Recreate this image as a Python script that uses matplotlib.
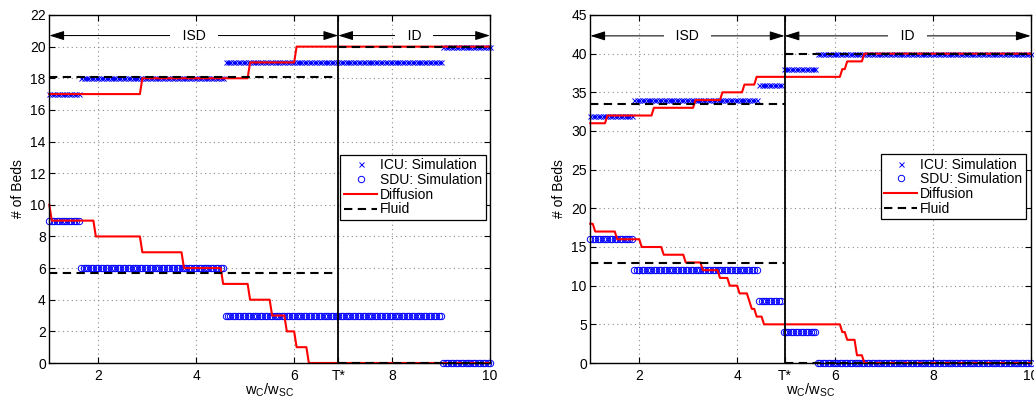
import numpy as np
import matplotlib
matplotlib.use("Agg")
import matplotlib.pyplot as plt

plt.rcParams['font.family'] = ['Liberation Sans', 'DejaVu Sans']
plt.rcParams['mathtext.fontset'] = 'custom'
plt.rcParams['mathtext.rm'] = 'Liberation Sans'
plt.rcParams['mathtext.it'] = 'Liberation Sans'
plt.rcParams['mathtext.bf'] = 'Liberation Sans'

# ---------------- data ----------------
STEP = 0.05          # spacing of the w_C/w_SC grid used in the figure
X_MIN, X_MAX = 1.0, 10.0

# Left panel
left_T = 6.9
left_ymax = 22
left_yticks = list(range(0, 23, 2))
left_xticks = [2, 4, 6, left_T, 8, 10]
left_xticklabels = ['2', '4', '6', 'T*', '8', '10']
# simulation: segments (start, end) and the bed levels on each
left_sim_start = [1.0, 1.65, 4.6, 9.05]
left_sim_end = [1.6, 4.55, 9.0, 10.0]
left_icu_sim = [17, 18, 19, 20]
left_sdu_sim = [9, 6, 3, 0]
# diffusion: x where each new level begins, and the levels
left_icu_diff_x = [1.0, 2.9, 5.1, 6.05]
left_icu_diff = [17, 18, 19, 20]
left_sdu_diff_x = [1.0, 1.05, 1.95, 2.9, 3.75, 4.55, 5.1, 5.55, 5.85, 6.05, 6.3]
left_sdu_diff = [10, 9, 8, 7, 6, 5, 4, 3, 2, 1, 0]
# fluid: value before and after T*
left_icu_fluid = [18.07, 20]
left_sdu_fluid = [5.67, 0]
left_arrow_y = 20.7

# Right panel
right_T = 4.97
right_ymax = 45
right_yticks = list(range(0, 46, 5))
right_xticks = [2, 4, right_T, 6, 8, 10]
right_xticklabels = ['2', '4', 'T*', '6', '8', '10']
right_sim_start = [1.0, 1.9, 4.45, 4.95, 5.65]
right_sim_end = [1.85, 4.4, 4.9, 5.6, 10.0]
right_icu_sim = [32, 34, 36, 38, 40]
right_sdu_sim = [16, 12, 8, 4, 0]
right_icu_diff_x = [1.0, 1.35, 2.3, 3.15, 3.7, 4.15, 4.4, 6.15, 6.25, 6.6]
right_icu_diff = [31, 32, 33, 34, 35, 36, 37, 38, 39, 40]
right_sdu_diff_x = [1.0, 1.1, 1.55, 2.05, 2.5, 2.95, 3.3, 3.65, 3.85, 4.05,
                    4.25, 4.3, 4.4, 4.55, 6.15, 6.25, 6.45, 6.6]
right_sdu_diff = [18, 17, 16, 15, 14, 13, 12, 11, 10, 9, 8, 7, 6, 5, 4, 3, 1, 0]
right_icu_fluid = [33.53, 40]
right_sdu_fluid = [12.89, 0]
right_arrow_y = 42.3

legend_labels = ['ICU: Simulation', 'SDU: Simulation', 'Diffusion', 'Fluid']
region_labels = ['ISD', 'ID']


def sim_points(starts, ends, levels):
    xs, ys = [], []
    for s, e, v in zip(starts, ends, levels):
        x = np.arange(s, e + STEP / 2, STEP)
        xs.append(x)
        ys.append(np.full_like(x, v, dtype=float))
    return np.concatenate(xs), np.concatenate(ys)


def step_series(starts, levels):
    x = np.round(np.arange(X_MIN, X_MAX + STEP / 2, STEP), 4)
    idx = np.searchsorted(np.array(starts), x + 1e-9, side='right') - 1
    return x, np.array(levels, dtype=float)[idx]


panels = [
    dict(T=left_T, ymax=left_ymax, yticks=left_yticks, xticks=left_xticks,
         xticklabels=left_xticklabels, sim_start=left_sim_start,
         sim_end=left_sim_end, icu_sim=left_icu_sim, sdu_sim=left_sdu_sim,
         icu_diff_x=left_icu_diff_x, icu_diff=left_icu_diff,
         sdu_diff_x=left_sdu_diff_x, sdu_diff=left_sdu_diff,
         icu_fluid=left_icu_fluid, sdu_fluid=left_sdu_fluid,
         arrow_y=left_arrow_y),
    dict(T=right_T, ymax=right_ymax, yticks=right_yticks, xticks=right_xticks,
         xticklabels=right_xticklabels, sim_start=right_sim_start,
         sim_end=right_sim_end, icu_sim=right_icu_sim, sdu_sim=right_sdu_sim,
         icu_diff_x=right_icu_diff_x, icu_diff=right_icu_diff,
         sdu_diff_x=right_sdu_diff_x, sdu_diff=right_sdu_diff,
         icu_fluid=right_icu_fluid, sdu_fluid=right_sdu_fluid,
         arrow_y=right_arrow_y),
]

fig = plt.figure(figsize=(10.34, 4.05), dpi=100)
axes_rects = [[0.0477, 0.1037, 0.4262, 0.8593], [0.5709, 0.1037, 0.4259, 0.8593]]
legend_anchor = [(0.990, 0.598), (0.9887, 0.600)]

for p, rect, anc in zip(panels, axes_rects, legend_anchor):
    ax = fig.add_axes(rect)
    T = p['T']
    ax.set_xlim(X_MIN, X_MAX)
    ax.set_ylim(0, p['ymax'])

    # simulation markers
    xs, yi = sim_points(p['sim_start'], p['sim_end'], p['icu_sim'])
    _, ysd = sim_points(p['sim_start'], p['sim_end'], p['sdu_sim'])
    h1, = ax.plot(xs, yi, ls='none', marker='x', color='b', ms=3.6, mew=0.7,
                  clip_on=False, zorder=3)
    h2, = ax.plot(xs, ysd, ls='none', marker='o', mfc='none', mec='b', ms=4.6,
                  mew=0.7, clip_on=False, zorder=3)

    # diffusion
    xd, yd = step_series(p['icu_diff_x'], p['icu_diff'])
    h3, = ax.plot(xd, yd, color='r', lw=1.5, clip_on=False, zorder=4)
    xd, yd = step_series(p['sdu_diff_x'], p['sdu_diff'])
    ax.plot(xd, yd, color='r', lw=1.5, clip_on=False, zorder=4)

    # fluid
    for vals in (p['icu_fluid'], p['sdu_fluid']):
        for (a, b), v in zip([(X_MIN, T), (T, X_MAX)], vals):
            h4, = ax.plot([a, b], [v, v], color='k', lw=1.5, dashes=(4, 2.6),
                          clip_on=False, zorder=5)

    # T* line
    ax.axvline(T, color='k', lw=1.3, zorder=6)

    # regions
    y = p['arrow_y']
    for (a, b), lab in zip([(X_MIN, T), (T, X_MAX)], region_labels):
        ax.annotate('', xy=(b, y), xytext=(a, y),
                    arrowprops=dict(arrowstyle='<|-|>,head_length=0.45,head_width=0.14',
                                    color='k', lw=0.75, shrinkA=0, shrinkB=0,
                                    mutation_scale=20),
                    zorder=7, annotation_clip=False)
        ax.text((a + b) / 2, y, '   ' + lab + '   ', ha='center', va='center',
                fontsize=10, zorder=8,
                bbox=dict(boxstyle='square,pad=0.05', fc='white', ec='none'))

    # axes styling
    ax.set_xticks(p['xticks'])
    ax.set_xticklabels(p['xticklabels'])
    ax.set_yticks(p['yticks'])
    ax.grid(True, ls=(0, (1, 3)), color='0.55', lw=0.8)
    ax.set_axisbelow(True)
    ax.tick_params(direction='in', top=True, right=True, length=4, width=0.8,
                   labelsize=10)
    ax.tick_params(axis='x', pad=4)
    ax.tick_params(axis='y', pad=2.5)
    for sp in ax.spines.values():
        sp.set_linewidth(1.0)
        sp.set_zorder(9)

    ax.set_ylabel('# of Beds', fontsize=10)
    ax.yaxis.set_label_coords(-0.055, 0.5)
    ax.set_xlabel(r'$\mathregular{w_C/w_{SC}}$', fontsize=10.5)
    ax.xaxis.set_label_coords(0.5, -0.054)
    ax.xaxis.label.set_va('top')

    leg = ax.legend([h1, h2, h3, h4], legend_labels, loc='upper right',
                    bbox_to_anchor=anc, borderaxespad=0, numpoints=1,
                    fontsize=10, labelspacing=0.05, borderpad=0.25,
                    handlelength=2.4, handletextpad=0.2, fancybox=False,
                    framealpha=1, edgecolor='k')
    leg.get_frame().set_linewidth(0.9)
    leg.set_zorder(10)

fig.savefig('out.png', dpi=100)
